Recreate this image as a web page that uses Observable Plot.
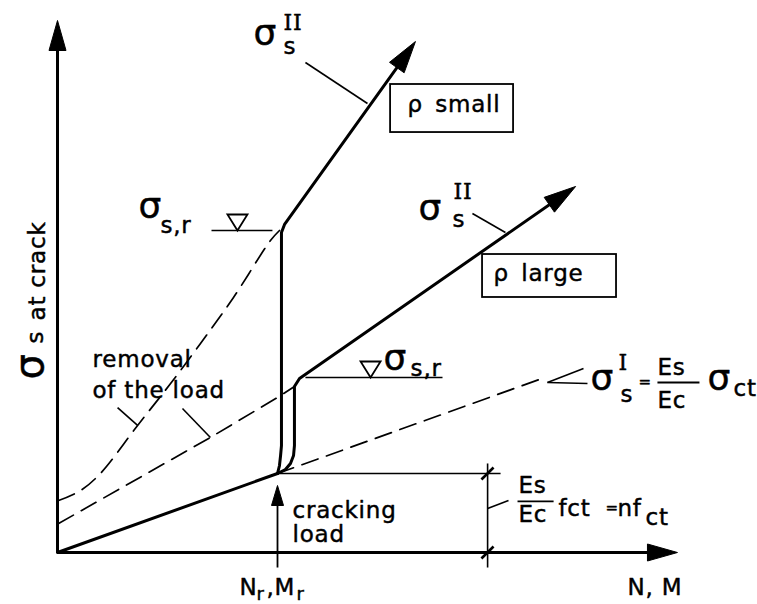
<!DOCTYPE html>
<html><head><meta charset="utf-8">
<script src="https://cdn.jsdelivr.net/npm/d3@7"></script>
<script src="https://cdn.jsdelivr.net/npm/@observablehq/plot@0.6"></script>
<style>
html,body{margin:0;padding:0;background:#fff;}
#chart svg text{letter-spacing:0.8px;}
</style></head><body><div id="chart"></div>
<script>
// Units: load N,M in N_r/10 ; steel stress in (σ at cracking)/10
const xDomain = [-2.591, 31.818];
const yDomain = [-6.582, 69.873];

// Curves
const stateI = [{x:0,y:0},{x:10,y:10}];
const stateIExtension = [{x:10,y:10},{x:21.9,y:21.9}];
const rhoSmallCurve = [{x:10,y:10},{x:10.09,y:11.01},{x:10.14,y:12.28},{x:10.18,y:13.54},{x:10.18,y:40.51},{x:10.32,y:41.52},{x:15.82,y:62.91}];
const rhoLargeCurve = [{x:10,y:10},{x:10.36,y:10.51},{x:10.59,y:11.27},{x:10.73,y:12.28},{x:10.77,y:13.54},{x:10.77,y:21.01},{x:11.0,y:22.03},{x:23.09,y:45.44}];
const unloadLarge = [{x:0.05,y:3.67},{x:6.95,y:14.56},{x:10,y:19.62},{x:10.77,y:21.01}];
const unloadSmall = [{x:0.05,y:6.58},{x:1.05,y:7.85},{x:1.95,y:10.0},{x:3.64,y:16.08},{x:5.14,y:21.39},{x:6.5,y:26.46},{x:8.0,y:32.28},{x:9.68,y:39.49},{x:10.09,y:40.76}];

// Axes and arrows
const axisLines = [{x1:0,y1:0,x2:0,y2:64.81},{x1:0,y1:0,x2:27.18,y2:0}];
const crackArrowShaft = [{x1:10,y1:-1.9,x2:10,y2:6.58}];
const arrowTips = [
  {x:0,y:67.34,fx:0,fy:0},
  {x:28.18,y:0,fx:0,fy:0},
  {x:10,y:8.48,fx:10,fy:0},
  {x:16.27,y:64.68,fx:10.32,fy:41.52},
  {x:23.55,y:46.33,fx:11.0,fy:22.03}
];
const arrowSizes = [[30,8.5],[30,8.5],[20,6],[32,9],[32,9]];

// Annotation lines
const leaders = [
  {x1:11.27,y1:62.03,x2:14.09,y2:56.84},
  {x1:18.86,y1:42.91,x2:20.36,y2:40.51},
  {x1:2.73,y1:18.35,x2:3.64,y2:16.08},
  {x1:5.68,y1:18.23,x2:6.95,y2:14.56},
  {x1:23.91,y1:23.29,x2:22.27,y2:21.52},
  {x1:22.27,y1:21.52,x2:24.09,y2:21.39},
  {x1:19.55,y1:5.57,x2:20.5,y2:6.58}
];
const crackLevels = [{x1:7.0,y1:40.76,x2:9.77,y2:40.76},{x1:11.27,y1:22.15,x2:17.5,y2:22.15}];
const levelMarks = [{x:8.18,y:40.76},{x:14.23,y:22.15}];
const dimensionLines = [{x1:10,y1:10,x2:20.14,y2:10},{x1:19.55,y1:11.27,x2:19.55,y2:-1.9}];
const dimensionTicks = [{x1:19.27,y1:9.24,x2:19.82,y2:10.76},{x1:19.27,y1:-0.76,x2:19.82,y2:0.76}];
const fractionBars = [{x1:27.27,y1:21.52,x2:29.18,y2:21.52},{x1:20.91,y1:6.46,x2:22.55,y2:6.46}];
const boxes = [{x1:15.14,x2:20.73,y1:53.16,y2:59.24},{x1:19.32,x2:25.41,y1:32.28,y2:37.72}];

// Texts
const wordLabels = [
  {x:1.59,y:23.42,t:"removal"},
  {x:1.59,y:19.62,t:"of the load"},
  {x:10.68,y:4.43,t:"cracking"},
  {x:10.68,y:1.27,t:"load"},
  {x:25.91,y:-5.44,t:"N, M"},
  {x:8.27,y:-5.44,t:"N"},
  {x:9.50,y:-5.44,t:","},
  {x:9.86,y:-5.44,t:"M"}
];
const boxLabels = [{x:15.91,y:55.70,t:"ρ\u2002small"},{x:19.82,y:34.43,t:"ρ\u2002large"}];
const sigmaGlyphs = [{x:8.91,y:64.18},{x:16.41,y:42.03},{x:3.68,y:42.28},{x:14.82,y:23.04},{x:24.23,y:20.51},{x:29.55,y:20.51}];
const subscripts = [
  {x:10.27,y:63.16,t:"s"},{x:17.95,y:41.14,t:"s"},{x:4.68,y:40.38,t:"s,r"},{x:16.05,y:22.28,t:"s,r"},
  {x:25.59,y:18.99,t:"s"},{x:30.73,y:19.87,t:"ct"},{x:26.73,y:3.42,t:"ct"}
];
const smallSubscripts = [{x:9.05,y:-5.95,t:"r"},{x:10.86,y:-5.95,t:"r"}];
const superscripts = [{x:10.27,y:66.2,t:"II"},{x:18.0,y:44.8,t:"II"},{x:25.5,y:23.1,t:"I"}];
const formulaText = [
  {x:27.27,y:22.53,t:"Es"},{x:27.27,y:18.23,t:"Ec"},
  {x:20.95,y:7.59,t:"Es"},{x:20.95,y:3.80,t:"Ec"},
  {x:22.77,y:4.56,t:"fct"},{x:25.45,y:4.56,t:"nf"}
];
const smallEquals = [{x:26.41,y:20.89,t:"="},{x:24.91,y:5.06,t:"="}];
const yLabelSigma = [{x:-0.64,y:21.9,t:"σ"}];
const yLabelSub = [{x:-0.64,y:26.46,t:"s"}];
const yLabelRest = [{x:-0.59,y:29.37,t:"at crack"}];

const W = 757, H = 604;
const kx = W/(xDomain[1]-xDomain[0]), ky = H/(yDomain[1]-yDomain[0]);
function arrowSymbol(angleDeg, len, hw){
  const a = angleDeg*Math.PI/180, c = Math.cos(a), s = Math.sin(a);
  const pts = [[0,0],[-hw,len],[hw,len]].map(([x,y]) => [x*c - y*s, x*s + y*c]);
  return {draw(ctx){ ctx.moveTo(pts[0][0],pts[0][1]); ctx.lineTo(pts[1][0],pts[1][1]); ctx.lineTo(pts[2][0],pts[2][1]); ctx.closePath(); }};
}
const levelSymbol = {draw(ctx){ ctx.moveTo(0,0); ctx.lineTo(-10,-16); ctx.lineTo(10,-16); ctx.closePath(); }};

const F = "DejaVu Sans", FS = "DejaVu Serif";
const dash = "17,9";
const txt = (data, size, family = F, extra = {}) => Plot.text(data, {x:"x", y:"y", text:"t", textAnchor:"start", lineAnchor:"bottom", fontFamily:family, fontSize:size, fill:"black", stroke:"black", strokeWidth:0.45, ...extra});

const arrowMarks = arrowTips.map((d,i) => {
  const dx = (d.x - d.fx)*kx, dy = -(d.y - d.fy)*ky;
  const ang = Math.atan2(dx, -dy)*180/Math.PI;
  return Plot.dot([d], {x:"x", y:"y", symbol: arrowSymbol(ang, arrowSizes[i][0], arrowSizes[i][1]), fill:"black", stroke:"black", strokeWidth:1, r:5});
});

const chart = Plot.plot({
  width: W, height: H, margin: 0,
  x: {domain: xDomain, axis: null},
  y: {domain: yDomain, axis: null},
  style: {background: "white", color: "black"},
  marks: [
    Plot.line(unloadSmall, {x:"x", y:"y", curve:"catmull-rom", strokeWidth:1.7, strokeDasharray:dash}),
    Plot.line(unloadLarge, {x:"x", y:"y", strokeWidth:1.7, strokeDasharray:dash}),
    Plot.line(stateIExtension, {x:"x", y:"y", strokeWidth:1.7, strokeDasharray:dash}),
    Plot.link(axisLines, {x1:"x1", y1:"y1", x2:"x2", y2:"y2", strokeWidth:3}),
    Plot.link(crackArrowShaft, {x1:"x1", y1:"y1", x2:"x2", y2:"y2", strokeWidth:1.8}),
    Plot.link(leaders, {x1:"x1", y1:"y1", x2:"x2", y2:"y2", strokeWidth:1.6}),
    Plot.link(crackLevels, {x1:"x1", y1:"y1", x2:"x2", y2:"y2", strokeWidth:1.6}),
    Plot.link(dimensionLines, {x1:"x1", y1:"y1", x2:"x2", y2:"y2", strokeWidth:1.6}),
    Plot.link(dimensionTicks, {x1:"x1", y1:"y1", x2:"x2", y2:"y2", strokeWidth:2.6}),
    Plot.link(fractionBars, {x1:"x1", y1:"y1", x2:"x2", y2:"y2", strokeWidth:1.8}),
    Plot.line(stateI, {x:"x", y:"y", strokeWidth:3}),
    Plot.line(rhoSmallCurve, {x:"x", y:"y", strokeWidth:3, strokeLinejoin:"round"}),
    Plot.line(rhoLargeCurve, {x:"x", y:"y", strokeWidth:3, strokeLinejoin:"round"}),
    ...arrowMarks,
    Plot.dot(levelMarks, {x:"x", y:"y", symbol: levelSymbol, fill:"white", stroke:"black", strokeWidth:1.8, r:5}),
    Plot.rect(boxes, {x1:"x1", x2:"x2", y1:"y1", y2:"y2", fill:"white", stroke:"black", strokeWidth:1.8}),
    txt(wordLabels, 23),
    txt(boxLabels, 23),
    txt(sigmaGlyphs.map(d => ({...d, t:"σ"})), 36),
    txt(subscripts, 23),
    txt(smallSubscripts, 18),
    txt(superscripts, 22, FS),
    txt(formulaText, 23),
    txt(smallEquals, 15),
    txt(yLabelSigma, 40, F, {rotate:-90}),
    txt(yLabelSub, 23, F, {rotate:-90}),
    txt(yLabelRest, 23, F, {rotate:-90})
  ]
});
document.getElementById("chart").appendChild(chart);
</script></body></html>
